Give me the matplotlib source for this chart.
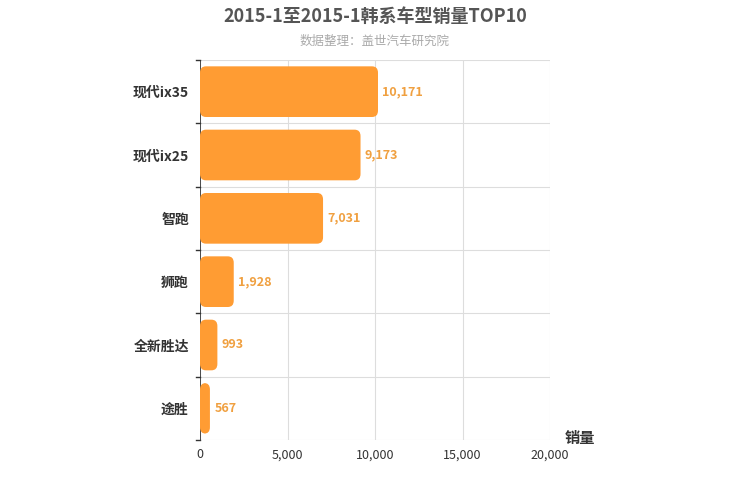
import matplotlib
matplotlib.use("Agg")
import matplotlib.pyplot as plt
from matplotlib.patches import FancyBboxPatch

plt.rcParams["font.family"] = ["Noto Sans CJK SC", "DejaVu Sans"]

categories = ["现代ix35", "现代ix25", "智跑", "狮跑", "全新胜达", "途胜"]
sales = [10171, 9173, 7031, 1928, 993, 567]
xticks = [0, 5000, 10000, 15000, 20000]

BAR_COLOR = "#ff9c33"
fig = plt.figure(figsize=(7.5, 5), dpi=100)
ax = fig.add_axes([200 / 750, 60 / 500 * 0 + 0.12, 350 / 750, 0.76])

n = len(categories)
bar_h = 0.8
for i, v in enumerate(sales):
    y = n - 1 - i
    ax.add_patch(FancyBboxPatch(
        (0, y - bar_h / 2), v, bar_h,
        boxstyle="round,pad=0,rounding_size=340",
        mutation_aspect=0.1 / 340,
        facecolor=BAR_COLOR, edgecolor="none", zorder=3,
    ))
    ax.text(v + 250, y, f"{v:,}", color="#f0a040", fontsize=9,
            fontweight="bold", va="center", ha="left", zorder=4)

ax.set_xlim(0, 20000)
ax.set_ylim(-0.5, n - 0.5)
ax.set_xticks(xticks)
ax.set_xticklabels([f"{v:,}" for v in xticks], fontsize=9, color="#333")
ax.set_yticks(range(n))
ax.set_yticklabels(categories[::-1], fontsize=10, fontweight="bold", color="#333")
ax.tick_params(axis="y", length=0, pad=8)
ax.tick_params(axis="x", length=0, pad=6)

# grid: vertical value lines and horizontal category separators
for x in xticks:
    ax.axvline(x, color="#dddddd", linewidth=0.8, zorder=1)
for b in range(n + 1):
    yb = b - 0.5
    ax.axhline(yb, color="#dddddd", linewidth=0.8, zorder=1)
    ax.plot([-250, 0], [yb, yb], color="#333", linewidth=1, clip_on=False, zorder=2)

for s in ax.spines.values():
    s.set_visible(False)
ax.axvline(0, color="#333", linewidth=1.2, zorder=2)

fig.text(0.5, 0.968, "2015-1至2015-1韩系车型销量TOP10", ha="center", va="center",
         fontsize=13, fontweight="bold", color="#555")
fig.text(0.5, 0.918, "数据整理：盖世汽车研究院", ha="center", va="center",
         fontsize=9, color="#aaaaaa")
fig.text(580 / 750, 1 - 438 / 500, "销量", ha="center", va="center",
         fontsize=11, fontweight="bold", color="#333")

fig.savefig("out.png", dpi=100)
